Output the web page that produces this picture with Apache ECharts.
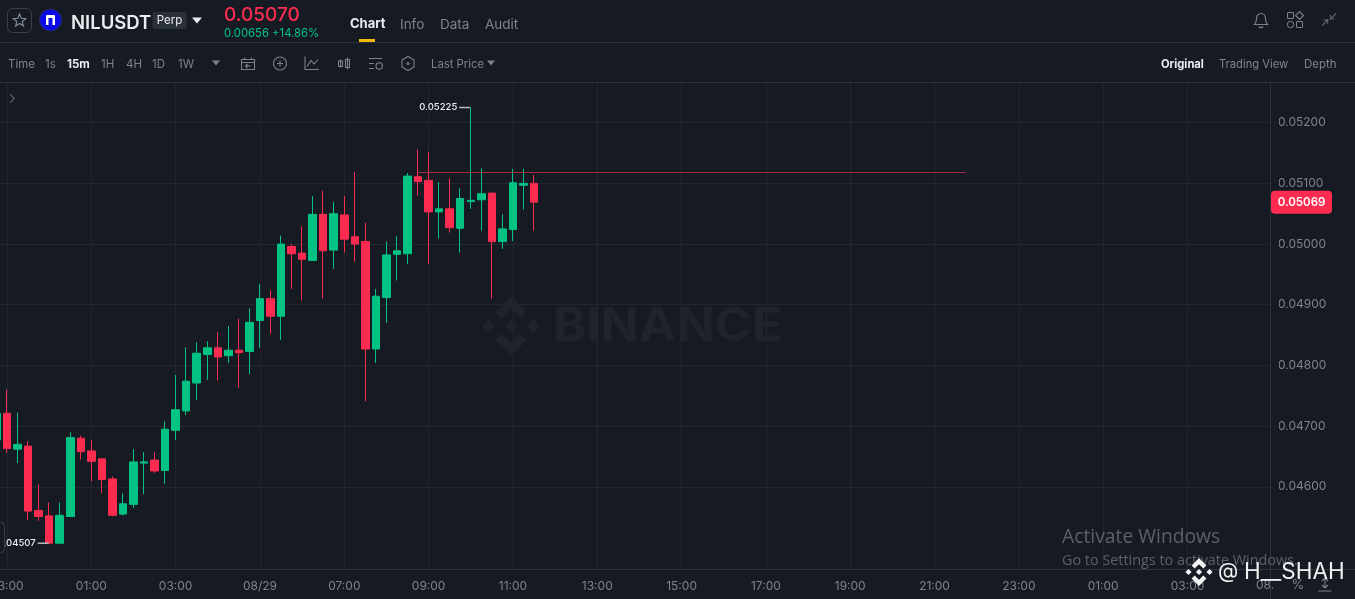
<!DOCTYPE html>
<html><head><meta charset="utf-8">
<style>html,body{margin:0;padding:0;background:#161a23;overflow:hidden}#c{width:1355px;height:599px}</style>
<script src="https://cdn.jsdelivr.net/npm/echarts@6/dist/echarts.min.js"></script>
</head><body><div id="c"></div>
<script>
// one candle per 15 minutes, from 22:45 onward
const opens  = [.04677,.04721,.04662,.04667,.04561,.04552,.04507,.04551,.04680,.04659,.04646,.04613,.04555,.04571,.04639,.04644,.04627,.04693,.04725,.04771,.04818,.04829,.04816,.04825,.04823,.04874,.04910,.04881,.04996,.04985,.04973,.05049,.04990,.05048,.05012,.05004,.04827,.04912,.04983,.04984,.05111,.05105,.05053,.05058,.05026,.05070,.05073,.05084,.05004,.05024,.05097,.05100];
const closes = [.04721,.04663,.04670,.04560,.04551,.04507,.04553,.04681,.04658,.04642,.04612,.04553,.04572,.04641,.04641,.04626,.04695,.04727,.04774,.04820,.04829,.04814,.04825,.04821,.04871,.04910,.04881,.05000,.04984,.04975,.05049,.04989,.05050,.05008,.05000,.04827,.04914,.04982,.04989,.05112,.05103,.05053,.05058,.05027,.05075,.05072,.05083,.05004,.05025,.05101,.05100,.05069];
const lows   = [.04669,.04656,.04639,.04545,.04544,.04507,.04507,.04551,.04645,.04609,.04590,.04551,.04553,.04565,.04588,.04623,.04605,.04677,.04718,.04743,.04776,.04775,.04804,.04763,.04786,.04829,.04852,.04842,.04926,.04907,.04973,.04910,.04959,.04986,.04971,.04741,.04804,.04870,.04940,.04967,.05080,.04967,.05009,.05019,.04986,.05058,.05022,.04910,.04992,.05005,.05057,.05022];
const highs  = [.04735,.04760,.04722,.04675,.04604,.04574,.04574,.04690,.04684,.04677,.04646,.04617,.04589,.04662,.04657,.04657,.04708,.04784,.04830,.04838,.04840,.04855,.04865,.04877,.04894,.04934,.04924,.05014,.05000,.05029,.05079,.05088,.05069,.05079,.05119,.05035,.04926,.05004,.05013,.05117,.05156,.05152,.05102,.05108,.05092,.05225,.05125,.05084,.05049,.05124,.05124,.05114];
const priceTicks = [.046,.047,.048,.049,.050,.051,.052];
const timeLabels = ['23:00','01:00','03:00','08/29','07:00','09:00','11:00','13:00','15:00','17:00','19:00','21:00','23:00','01:00','03:00','08/30'];
const lastPrice = 0.05069;
const refLevel = 0.05118, refFromBar = 40, refToBar = 92;
const highMark = [45, .05225], lowMark = [5, .04507];

// 122 bars across the axis; every eighth bar (from bar 1) carries a tick label
const BARS = 122, LABEL_STEP = 8;
const categories = Array.from({length:BARS},(_,i)=>(i-1)%LABEL_STEP===0 ? timeLabels[(i-1)/LABEL_STEP] : '');
const isLabelled = i => (i-1)%LABEL_STEP===0 && i<BARS-1;

const BG='#161a23', GRID='#22262e', AXIS='#2d323b', TXT='#7d838d', WHITE='#eaecef', RED='#fb2c50', GREEN='#02c383';
const FONT='Inter, "Open Sans", sans-serif';
const BW=10.54, LEFT=-8.8;
const chart = echarts.init(document.getElementById('c'), null, {renderer:'canvas'});
chart.setOption({
  animation:false, backgroundColor:BG,
  grid:{left:LEFT, top:83, width:BW*BARS, height:486, containLabel:false, outerBoundsMode:'none'},
  xAxis:{type:'category', data:categories, boundaryGap:true, axisLine:{show:false},
    axisTick:{show:false},
    axisLabel:{interval:isLabelled, color:TXT, fontSize:12, fontFamily:FONT, margin:11, hideOverlap:false},
    splitLine:{show:true, interval:isLabelled, alignWithLabel:true, lineStyle:{color:GRID, width:1}}},
  yAxis:{type:'value', position:'right', offset:-(LEFT+BW*BARS-1270), min:0.044645, max:0.052654, scale:true, axisLine:{show:false},
    axisTick:{show:false, customValues:priceTicks},
    axisLabel:{customValues:priceTicks, color:TXT, fontSize:12, fontFamily:FONT, margin:8, formatter:v=>v.toFixed(5)},
    splitLine:{show:true, lineStyle:{color:GRID, width:1}}},
  series:[{
    type:'candlestick', barWidth:8,
    data:opens.map((o,i)=>[o,closes[i],lows[i],highs[i]]),
    itemStyle:{color:GREEN,color0:RED,borderColor:GREEN,borderColor0:RED,borderWidth:1},
    markLine:{silent:true,symbol:'none',label:{show:false},animation:false,
      lineStyle:{color:'#a32a44',width:1,type:'solid'},
      data:[[{coord:[refFromBar,refLevel]},{coord:[refToBar,refLevel]}]]},
    markPoint:{silent:true,animation:false,
      data:[highMark,lowMark].map(m=>({coord:m,symbol:'rect',symbolSize:[11,1.5],symbolOffset:[-6,0],
        itemStyle:{color:'#b7bdc6'},
        label:{show:true,position:'left',distance:2,formatter:m[1].toFixed(5),color:WHITE,fontSize:9.5,fontWeight:500,fontFamily:FONT}}))}
  }]
});

const g=[]; const Z=100;
const t=(text,x,y,o={})=>g.push({type:'text',z:o.z||Z,x,y,scaleX:o.sx||1,style:{text,fill:o.c||TXT,font:`${o.w||400} ${o.s||12}px ${o.f||FONT}`,textAlign:o.a||'left',textVerticalAlign:'middle',opacity:o.o==null?1:o.o}});
const r=(x,y,w,h,fill,o={})=>g.push({type:'rect',z:o.z||Z,shape:{x,y,width:w,height:h,r:o.r||0},style:{fill,stroke:o.st||null,lineWidth:o.lw||1}});
const tri=(x,y,s,c)=>g.push({type:'polygon',z:Z,shape:{points:[[x-s,y-s*.6],[x+s,y-s*.6],[x,y+s*.6]]},style:{fill:c}});
let pathId=0;
const path=(d,x,y,c,o={})=>{const name='ico'+(pathId++);
  echarts.graphic.registerShape(name,echarts.graphic.extendPath(d,{}));
  g.push({type:name,z:Z,x,y,style:{fill:o.fill||'none',stroke:c,lineWidth:o.lw==null?1.1:o.lw}});};
function logo(cx,cy,R,c,z){
  const polys=[[[0,-.22],[.22,0],[0,.22],[-.22,0]],[[-.75,-.22],[-.53,0],[-.75,.22],[-.97,0]],[[.75,-.22],[.97,0],[.75,.22],[.53,0]],
    [[0,-1],[.53,-.47],[.31,-.25],[0,-.56],[-.31,-.25],[-.53,-.47]],[[0,1],[.53,.47],[.31,.25],[0,.56],[-.31,.25],[-.53,.47]]];
  polys.forEach(p=>g.push({type:'polygon',z:z||Z,shape:{points:p.map(q=>[cx+q[0]*R,cy+q[1]*R])},style:{fill:c}}));
}
const lineH=(y,x0,x1,c)=>g.push({type:'line',z:Z,shape:{x1:x0,y1:y,x2:x1,y2:y},style:{stroke:c,lineWidth:1}});
const lineV=(x,y0,y1,c)=>g.push({type:'line',z:Z,shape:{x1:x,y1:y0,x2:x,y2:y1},style:{stroke:c,lineWidth:1}});

// hide the part of the grid that runs under the price column
r(1271,83,8,486,BG);
// panel rules
lineH(42.5,0,1355,AXIS); lineH(82.5,0,1355,AXIS); lineH(569.5,0,1355,AXIS); lineV(1270.5,83,599,AXIS);

// watermark
logo(511,326,30,'#1f232a',1);
t('BINANCE',553,327.5,{s:46,w:700,c:'#1f232a',z:1,sx:1.095});

// header
r(7.5,8.5,24,24,'none',{st:'#3a3f48',r:5});
g.push({type:'polygon',z:Z,shape:{points:[[19.5,14],[21.2,18.3],[25.8,18.6],[22.2,21.5],[23.4,26],[19.5,23.5],[15.6,26],[16.8,21.5],[13.2,18.6],[17.8,18.3]]},style:{fill:'none',stroke:'#848e9c',lineWidth:1.1}});
g.push({type:'circle',z:Z,shape:{cx:50.5,cy:20,r:11},style:{fill:'#0a0ae6',stroke:'#2b2f55',lineWidth:1}});
path('M0 10 L0 1 Q0 0 1 0 L8 0 Q9 0 9 1 L9 10 L6.5 10 L6.5 3 L2.5 3 L2.5 10 Z',46,15,'#fff',{fill:'#fff',lw:0});
t('NILUSDT',71,23.5,{s:18.5,w:600,c:WHITE});
r(152.5,12,34,17,'#2b3139',{r:2});
t('Perp',169.5,21,{s:11.5,c:WHITE,a:'center'});
tri(197,20.5,5,WHITE);
t('0.05070',224,15.5,{s:19,w:500,c:RED});
t('0.00656 +14.86%',224,33.5,{s:11.3,c:GREEN});
t('Chart',350,24.5,{s:13,w:700,c:WHITE});
r(359,39,16,3,'#f0b90b');
t('Info',400,24.5,{s:13.5});t('Data',440,24.5,{s:13.5});t('Audit',485,24.5,{s:13.5});

// header right icons
path('M0 11 C2 9 2 7 2 5 C2 2 4 0 6.5 0 C9 0 11 2 11 5 C11 7 11 9 13 11 Z M4.5 13 C5 14.5 8 14.5 8.5 13',1254.5,13.5,TXT);
r(1287.5,12.5,6,6,'none',{st:TXT,r:.5});r(1296.5,21.5,6,6,'none',{st:TXT,r:.5});
g.push({type:'circle',z:Z,shape:{cx:1290.5,cy:24.5,r:3.2},style:{fill:'none',stroke:TXT,lineWidth:1}});
path('M4 0 L8 4 L4 8 L0 4 Z',1295.5,11.5,TXT);
path('M0 12 L6 6 M1.5 6.5 L6 6 L5.5 10.5 M14 0 L8.5 5.5 M8.5 1.5 L8.5 5.5 L12.5 5.5',1322,13.5,'#5d636c');

// toolbar
const TY=64.5;
t('Time',8,TY,{s:11.5});t('1s',45,TY,{s:11.5});t('15m',67,TY,{s:11.5,w:700,c:WHITE});
t('1H',101,TY,{s:11.5});t('4H',126,TY,{s:11.5});t('1D',152,TY,{s:11.5});t('1W',178,TY,{s:11.5});
tri(216,63,4,TXT);
path('M0 3 L13 3 L13 13 L0 13 Z M0 6 L13 6 M3 1 L3 3 M10 1 L10 3 M9 9.5 L4 9.5 M6 7.5 L4 9.5 L6 11.5',241.5,56.5,TXT);
g.push({type:'circle',z:Z,shape:{cx:280,cy:63.5,r:6.5},style:{fill:'none',stroke:TXT,lineWidth:1.1}});
path('M0 3 L6 3 M3 0 L3 6',277,60.5,TXT);
path('M0 0 L0 13 L14 13 M2 10 L6 4 L9 7.5 L13 3',305,56.5,TXT);
path('M3 3 L3 11 M1 4.5 L5 4.5 L5 10 L1 10 Z M10 1 L10 13 M8 3 L12 3 L12 11 L8 11 Z',337.5,56.5,TXT);
path('M0 2 L13 2 M0 7 L5 7 M0 12 L5 12 M7 9.5 A3.2 3.2 0 1 0 13.4 9.5 A3.2 3.2 0 1 0 7 9.5',369,56.5,TXT);
path('M6 0 L12 3.5 L12 10.5 L6 14 L0 10.5 L0 3.5 Z M5 7 A1 1 0 1 0 7 7 A1 1 0 1 0 5 7',402,56.5,TXT);
t('Last Price',431,TY,{s:11.3});tri(491,63,4,TXT);
t('Original',1161,TY,{s:11.2,w:700,c:WHITE});t('Trading View',1219,TY,{s:11.2});t('Depth',1304,TY,{s:11.5});

// chart overlays
path('M0 0 L4 4.5 L0 9',10,94,'#6a7079');
r(-6,522,10.5,30.5,BG,{st:'#3a3f48',r:4});

// price tag
const tagY=chart.convertToPixel({yAxisIndex:0},lastPrice);
r(1271,tagY-11.5,61,23,RED,{r:4,z:110});
t(lastPrice.toFixed(5),1301.5,tagY+.5,{s:11.5,w:600,c:'#fff',a:'center',z:111});

// system overlays
t('08.',1256,585.5,{s:12});
t('%',1298,585,{s:13,c:TXT,a:'center'});
path('M0 13 L13 13 M6.5 0 L6.5 10 M3.5 3 L6.5 0 L9.5 3 M3.5 7 L6.5 10 L9.5 7',1318.5,578,TXT);
t('Activate Windows',1062,538,{s:19.3,c:'#5d6068',f:'"Open Sans", sans-serif'});
t('Go to Settings to activate Windows.',1062,561,{s:14.4,c:'#5d6068',f:'"Open Sans", sans-serif'});
logo(1199,572,14,'#f4f4f4');
t('@',1218,572,{s:21,c:'#f0f0f0'});
t('H__SHAH',1244,572,{s:22.5,c:'#f0f0f0'});

chart.setOption({graphic:{elements:g}});
</script></body></html>
